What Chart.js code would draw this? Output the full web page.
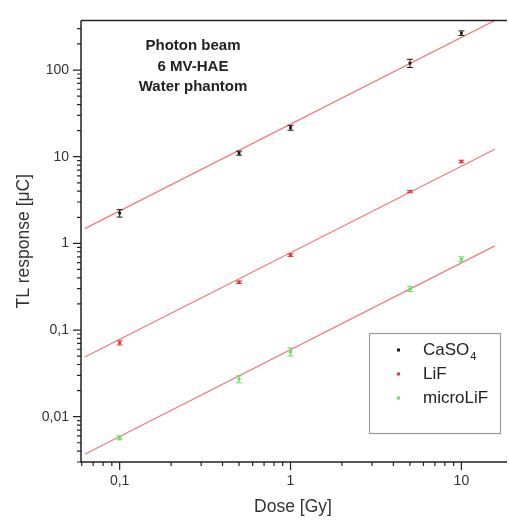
<!DOCTYPE html>
<html><head><meta charset="utf-8">
<script src="https://cdn.jsdelivr.net/npm/chart.js@4/dist/chart.umd.min.js"></script>
<style>html,body{margin:0;padding:0;background:#fff;overflow:hidden}</style>
</head><body>
<div style="width:509px;height:524px;position:relative"><canvas id="c"></canvas></div>
<script>
const doses = [0.1, 0.5, 1, 5, 10];
const caso4 = [2.23, 11.0, 21.6, 120, 267];
const caso4Err = [0.22, 0.6, 1.4, 13, 16];
const lif = [0.0711, 0.356, 0.732, 3.96, 8.81];
const lifErr = [0.004, 0.012, 0.025, 0.12, 0.3];
const microlif = [0.00572, 0.0271, 0.0561, 0.299, 0.659];
const microlifErr = [0.0003, 0.0025, 0.006, 0.02, 0.04];
const fitDose = [0.0625, 15.7];
const caso4Fit = [1.48, 374];
const lifFit = [0.0488, 12.2];
const microlifFit = [0.00368, 0.936];
const xMajor = [0.1, 1, 10];
const yMajor = [0.01, 0.1, 1, 10, 100];
const annotation = ['Photon beam', '6 MV-HAE', 'Water phantom'];

const FONT = '"Liberation Sans", Arial, sans-serif';
const fmt = v => String(v).replace('.', ',');
const pts = (xs, ys) => xs.map((x, i) => ({x: x, y: ys[i]}));

function pointSet(label, ys, errs, color) {
  return {label, data: pts(doses, ys), errors: errs, isPoints: true,
    backgroundColor: color, borderColor: color, pointStyle: 'rect',
    pointRadius: 2, pointBorderWidth: 0, showLine: false, order: 0};
}
function fitSet(ys) {
  return {label: 'fit', data: pts(fitDose, ys), showLine: true, isFit: true,
    borderColor: '#f07a7a', borderWidth: 1.2, pointRadius: 0, order: 1};
}

const axesPlugin = {
  id: 'axes',
  afterDraw(chart) {
    const {ctx, chartArea: a, scales: {x, y}} = chart;
    ctx.save();
    ctx.strokeStyle = '#222';
    ctx.lineWidth = 1.5;
    ctx.beginPath();
    ctx.moveTo(a.left, a.top); ctx.lineTo(a.right + 2, a.top);
    ctx.moveTo(a.left, a.top); ctx.lineTo(a.left, a.bottom);
    ctx.lineTo(a.right + 2, a.bottom);
    ctx.stroke();
    ctx.lineWidth = 1.2;
    ctx.beginPath();
    const dec = (mn, mx, cb) => {
      for (let e = Math.floor(Math.log10(mn)); e <= Math.ceil(Math.log10(mx)); e++) {
        for (let k = 1; k <= 9; k++) {
          const v = k * Math.pow(10, e);
          if (v >= mn && v <= mx) cb(v, k === 1);
        }
      }
    };
    dec(x.min, x.max, (v, major) => {
      const px = x.getPixelForValue(v);
      ctx.moveTo(px, a.bottom); ctx.lineTo(px, a.bottom + (major ? 8 : 4));
    });
    dec(y.min, y.max, (v, major) => {
      const py = y.getPixelForValue(v);
      ctx.moveTo(a.left, py); ctx.lineTo(a.left - (major ? 8 : 4), py);
    });
    ctx.stroke();
    ctx.restore();
  }
};

const errPlugin = {
  id: 'errbars',
  afterDatasetsDraw(chart) {
    const {ctx, scales: {x, y}} = chart;
    ctx.save();
    chart.data.datasets.forEach(ds => {
      if (!ds.isPoints) return;
      ctx.strokeStyle = ds.borderColor;
      ctx.lineWidth = 1;
      ds.data.forEach((p, i) => {
        const e = ds.errors[i];
        const px = x.getPixelForValue(p.x);
        const y1 = y.getPixelForValue(p.y + e), y0 = y.getPixelForValue(p.y - e);
        ctx.beginPath();
        ctx.moveTo(px, y0); ctx.lineTo(px, y1);
        ctx.moveTo(px - 3, y0); ctx.lineTo(px + 3, y0);
        ctx.moveTo(px - 3, y1); ctx.lineTo(px + 3, y1);
        ctx.stroke();
      });
    });
    ctx.restore();
  }
};

const legendPlugin = {
  id: 'customLegend',
  afterDraw(chart) {
    const {ctx} = chart;
    ctx.save();
    ctx.strokeStyle = '#9a9a9a';
    ctx.lineWidth = 1.2;
    ctx.strokeRect(369.5, 333.5, 131, 100);
    const sets = chart.data.datasets.filter(d => d.isPoints);
    ctx.textBaseline = 'middle';
    ctx.textAlign = 'left';
    sets.forEach((ds, i) => {
      const cy = 350 + i * 24;
      ctx.fillStyle = ds.backgroundColor;
      ctx.fillRect(397, cy - 1.5, 3, 3);
      ctx.fillStyle = '#222';
      ctx.font = '17px ' + FONT;
      if (ds.label === 'CaSO4') {
        ctx.fillText('CaSO', 423, cy);
        const w = ctx.measureText('CaSO').width;
        ctx.font = '11px ' + FONT;
        ctx.fillText('4', 423 + w + 1, cy + 7);
      } else {
        ctx.fillText(ds.label, 423, cy);
      }
    });
    ctx.font = 'bold 15px ' + FONT;
    ctx.textAlign = 'center';
    annotation.forEach((t, i) => ctx.fillText(t, 193, 46 + i * 20.5));
    ctx.restore();
  }
};

new Chart(document.getElementById('c'), {
  type: 'scatter',
  data: {datasets: [
    pointSet('CaSO4', caso4, caso4Err, '#1a1a1a'),
    pointSet('LiF', lif, lifErr, '#e8333b'),
    pointSet('microLiF', microlif, microlifErr, '#5fe05f'),
    fitSet(caso4Fit), fitSet(lifFit), fitSet(microlifFit)
  ]},
  options: {
    responsive: true, maintainAspectRatio: false, animation: false,
    layout: {padding: {top: 17, right: 0, left: 0, bottom: 0}},
    plugins: {legend: {display: false}, tooltip: {enabled: false}},
    scales: {
      x: {
        type: 'logarithmic', min: 0.0594, max: 18,
        afterBuildTicks: s => { s.ticks = xMajor.map(v => ({value: v})); },
        afterFit: s => { s.height = 62; },
        grid: {display: true, drawOnChartArea: false, drawTicks: false},
        border: {display: false},
        ticks: {padding: 11, color: '#333', font: {size: 14, family: FONT},
          autoSkip: false, maxRotation: 0, callback: v => fmt(v)},
        title: {display: true, text: 'Dose [Gy]', color: '#333',
          font: {size: 17.5, family: FONT}, padding: {top: 4, bottom: 6}}
      },
      y: {
        type: 'logarithmic', min: 0.0030, max: 374,
        afterBuildTicks: s => { s.ticks = yMajor.map(v => ({value: v})); },
        afterFit: s => { s.width = 81; },
        grid: {display: true, drawOnChartArea: false, drawTicks: false},
        border: {display: false},
        ticks: {padding: 12, color: '#333', font: {size: 14, family: FONT},
          autoSkip: false, callback: v => fmt(v)},
        title: {display: true, text: 'TL response [\u03bcC]', color: '#333',
          font: {size: 17.5, family: FONT}, padding: {top: 14, bottom: 4}}
      }
    }
  },
  plugins: [axesPlugin, errPlugin, legendPlugin]
});
</script>
</body></html>
